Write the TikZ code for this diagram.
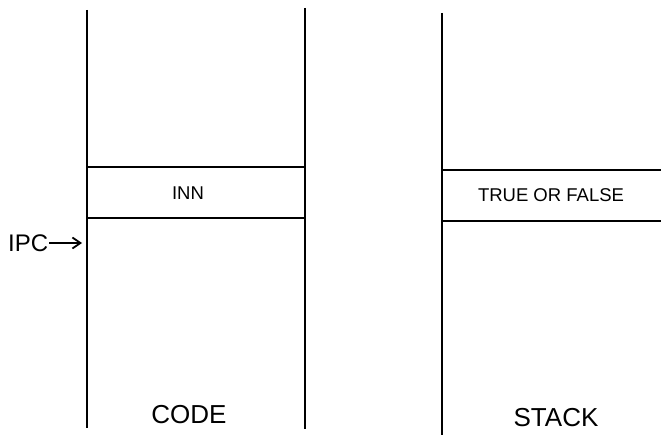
\documentclass[tikz,border=0pt]{standalone}
\usepackage{fontspec}
\setmainfont{Liberation Sans}
\usetikzlibrary{arrows.meta}
\begin{document}
\begin{tikzpicture}[x=1pt,y=-1pt,
  wall/.style={line width=1.6pt,black},
  slot/.style={line width=1.8pt,black},
  smalltxt/.style={inner sep=0pt,font=\fontsize{18.5}{20}\selectfont},
  bigtxt/.style={inner sep=0pt,font=\fontsize{26}{28}\selectfont},
  ptr/.style={line width=1.8pt,-{Straight Barb[length=8pt,width=11pt,line width=1.8pt]}}]
\useasboundingbox (0,0) rectangle (661,438);
% vertical walls
\draw[wall] (87,10) -- (87,428);
\draw[wall] (305,8) -- (305,429);
\draw[wall] (442,13) -- (442,435);
% code slot
\draw[slot] (87,167) -- (305,167);
\draw[slot] (87,218) -- (305,218);
% stack slot
\draw[slot] (442,170) -- (661,170);
\draw[slot] (442,221) -- (661,221);
% texts
\node[smalltxt] (inn) at (188,193.5) {INN};
\node[smalltxt] (tf) at (551,195) {TRUE OR FALSE};
\node[bigtxt] (code) at (189,415) {CODE};
\node[bigtxt] (stack) at (556,418) {STACK};
\node[bigtxt,anchor=west,font=\fontsize{24}{26}\selectfont] (ipc) at (8,243) {IPC};
\coordinate (ipcend) at (82,243);
\draw[ptr] (ipc.east) ++(1,0) -- (ipcend);
\end{tikzpicture}
\end{document}
